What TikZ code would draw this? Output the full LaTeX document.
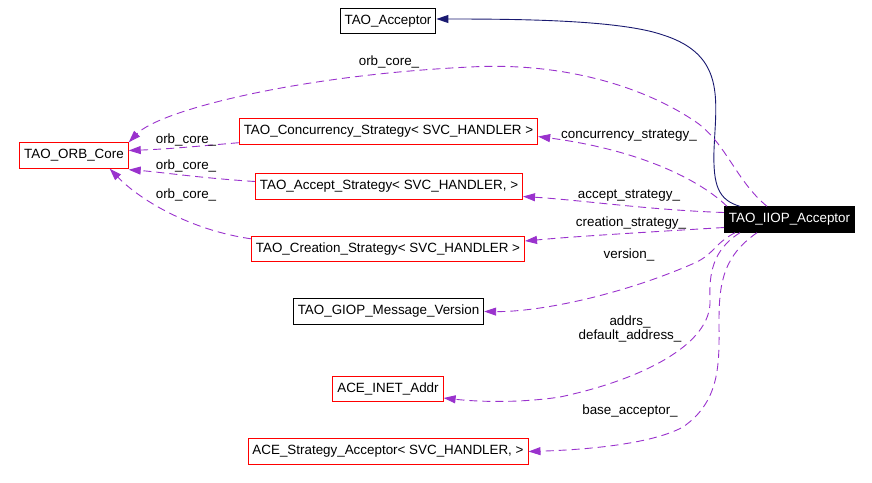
\documentclass[tikz,border=0pt]{standalone}
\usepackage{fontspec}
\setmainfont{Liberation Sans}
\usetikzlibrary{arrows.meta}

\begin{document}
\begin{tikzpicture}[x=1pt, y=-1pt,
    every node/.style={font=\fontsize{13.4}{15}\selectfont},
    cls/.style={draw=black, rectangle, inner xsep=4.5pt, inner ysep=0pt, minimum height=25.5pt, line width=0.9pt},
    undoc/.style={cls, draw=red},
    current/.style={cls, fill=black, text=white},
    usage/.style={draw=orchid, line width=0.9pt, dash pattern=on 8pt off 5pt, -{Triangle[length=12pt,width=8pt]}},
    inherit/.style={draw=navyline, line width=0.9pt, -{Triangle[length=12pt,width=8pt]}},
    elabel/.style={inner sep=0pt}]
    \definecolor{orchid}{RGB}{154,50,205}
    \definecolor{navyline}{RGB}{25,25,112}
    \useasboundingbox (0,0) rectangle (872,482);
    \node[current] (ID_IIOP) at (789.5,219.5) {TAO\_IIOP\_Acceptor};
    \node[cls] (ID_Acc) at (388,21) {TAO\_Acceptor};
    \node[undoc] (ID_ORB) at (74,155.5) {TAO\_ORB\_Core};
    \node[undoc] (ID_Conc) at (388.5,131.5) {TAO\_Concurrency\_Strategy< SVC\_HANDLER >};
    \node[undoc] (ID_AccS) at (389,186.5) {TAO\_Accept\_Strategy< SVC\_HANDLER, >};
    \node[undoc] (ID_Cre) at (388,249) {TAO\_Creation\_Strategy< SVC\_HANDLER >};
    \node[cls] (ID_GIOP) at (388.5,311.5) {TAO\_GIOP\_Message\_Version};
    \node[undoc] (ID_INET) at (388,389) {ACE\_INET\_Addr};
    \node[undoc] (ID_StrAcc) at (388,451.5) {ACE\_Strategy\_Acceptor< SVC\_HANDLER, >};
    % inheritance
    \draw[inherit] ([xshift=16pt]ID_IIOP.north west) .. controls (718,200) and (713,185) .. (714,150)
        .. controls (716,100) and (726,55) .. (663,35) .. controls (620,20) and (520,19) .. ([yshift=2pt]ID_Acc.east);
    % members
    \draw[usage] ([xshift=43pt]ID_IIOP.north west) .. controls (735,180) and (725,140) .. (693,120)
        .. controls (640,85) and (560,62) .. (470,67) .. controls (300,75) and (160,110) .. (ID_ORB.north east);
    \draw[usage] ([xshift=3pt]ID_IIOP.north west) .. controls (700,180) and (640,150) .. ([yshift=-5pt]ID_Conc.east);
    \draw[usage] ([yshift=7pt]ID_IIOP.west) .. controls (650,210) and (580,200) .. ([yshift=-10pt]ID_AccS.east);
    \draw[usage] ([yshift=-8pt]ID_IIOP.west) .. controls (650,232) and (580,236) .. ([yshift=8pt]ID_Cre.east);
    \draw[usage] ([xshift=11pt]ID_IIOP.south west) .. controls (712,245) and (715,255) .. (690,265)
        .. controls (620,295) and (540,312) .. (ID_GIOP.east);
    \draw[usage] ([xshift=16pt]ID_IIOP.south west) .. controls (712,250) and (709,275) .. (710,300)
        .. controls (712,345) and (640,380) .. (560,397) .. controls (520,403) and (480,402) .. ([yshift=-9pt]ID_INET.east);
    \draw[usage] ([xshift=33pt]ID_IIOP.south west) .. controls (725,255) and (719,280) .. (719,320)
        .. controls (719,360) and (722,400) .. (683,427) .. controls (650,445) and (580,450) .. (ID_StrAcc.east);
    \draw[usage] ([yshift=2pt]ID_Conc.south west) .. controls (200,146) and (170,149) .. ([yshift=5pt]ID_ORB.east);
    \draw[usage] ([yshift=5pt]ID_AccS.west) .. controls (200,178) and (160,172) .. ([yshift=-1pt]ID_ORB.south east);
    \draw[usage] ([yshift=-3pt]ID_Cre.north west) .. controls (190,230) and (140,200) .. ([xshift=-19pt]ID_ORB.south east);
    % labels
    \node[elabel] (L_orb0) at (389,62) {orb\_core\_};
    \node[elabel] (L_orb1) at (186,140) {orb\_core\_};
    \node[elabel] (L_orb2) at (186,166) {orb\_core\_};
    \node[elabel] (L_orb3) at (186,195) {orb\_core\_};
    \node[elabel] (L_conc) at (629,136) {concurrency\_strategy\_};
    \node[elabel] (L_acc) at (629,196) {accept\_strategy\_};
    \node[elabel] (L_cre) at (631,223) {creation\_strategy\_};
    \node[elabel] (L_ver) at (629,255) {version\_};
    \node[elabel] (L_addr) at (630,322) {addrs\_};
    \node[elabel] (L_def) at (630,336) {default\_address\_};
    \node[elabel] (L_base) at (630,411) {base\_acceptor\_};
\end{tikzpicture}
\end{document}
